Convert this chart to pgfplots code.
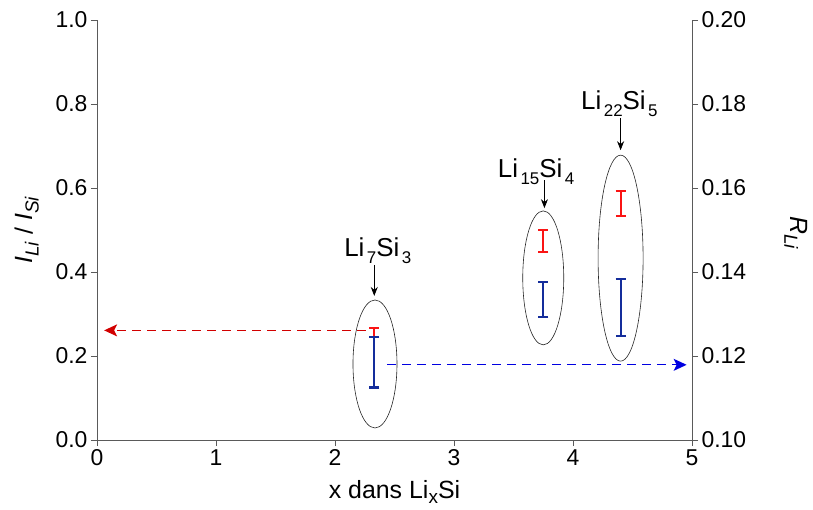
\documentclass[border=0pt]{standalone}
\usepackage{pgfplots}
\pgfplotsset{compat=1.18}
\usepackage{fontspec}
\setmainfont{Liberation Sans}
\usetikzlibrary{arrows.meta}
\definecolor{barred}{RGB}{250,20,20}
\definecolor{barblue}{RGB}{20,45,155}
\definecolor{arrred}{RGB}{210,0,0}
\definecolor{arrblue}{RGB}{0,0,225}
\definecolor{axgray}{RGB}{90,90,90}
\newcommand{\fs}{\fontsize{23}{27}\selectfont}
\newcommand{\fl}{\fontsize{25}{29}\selectfont}
\newcommand{\fa}{\fontsize{26}{30}\selectfont}
% subscript for annotations
\newcommand{\sub}[1]{\hspace{2.5bp}\raisebox{-7bp}{\fontsize{17}{17}\selectfont #1}}
% subscript for axis labels
\newcommand{\lsub}[1]{\raisebox{-6bp}{\fontsize{19}{19}\selectfont #1}}
\begin{document}
\begin{tikzpicture}
\pgfplotsset{
  every axis/.append style={
    scale only axis, width=595bp, height=420bp,
    xmin=0, xmax=5,
    tick align=outside,
    major tick length=6bp,
    tick style={axgray, line width=0.8bp},
    axis line style={axgray, line width=0.8bp},
    ticklabel style={font=\fs},
    label style={font=\fl},
    /pgf/number format/assume math mode=true,
    clip=false,
  }
}
\begin{axis}[
  axis x line*=bottom, axis y line*=left,
  axis line style={-},
  ymin=0, ymax=1,
  ytick={0,0.2,...,1.0},
  yticklabel style={/pgf/number format/.cd, fixed, fixed zerofill, precision=1},
  xtick={0,1,2,3,4,5},
  xlabel={x dans Li\raisebox{-5bp}{\fontsize{19}{19}\selectfont x}Si},
  ylabel={\textit{I}\lsub{\textit{Li}} / \textit{I}\lsub{\textit{Si}}},
  xlabel style={anchor=base, at={(ticklabel cs:0.5)}, yshift=-29bp},
  ylabel style={at={(ticklabel cs:0.5)}, anchor=south, yshift=10bp},
]
\addplot[barred, only marks, mark=text, text mark={},
  error bars/.cd, y dir=both, y explicit,
  error bar style={line width=2bp, barred},
  error mark=-,
  error mark options={barred, line width=2bp, mark size=5bp, rotate=90}]
  table[x=x, y=y, y error=e] {
x y e
2.33 0.256 0.011
3.75 0.474 0.026
4.40 0.563 0.030
};
% ellipses
\draw[black!85, line width=0.6bp] (axis cs:2.336,0.181) ellipse [x radius=22bp, y radius=64bp];
\draw[black!85, line width=0.6bp] (axis cs:3.75,0.386) ellipse [x radius=20.5bp, y radius=67bp];
\draw[black!85, line width=0.6bp] (axis cs:4.40,0.433) ellipse [x radius=22.5bp, y radius=103bp];
% labels
\node[font=\fa, anchor=base, inner sep=0pt] at (axis cs:2.36,0.438) {Li\sub{7}Si\sub{3}};
\node[font=\fa, anchor=base, inner sep=0pt] at (axis cs:3.69,0.624) {Li\sub{15}Si\sub{4}};
\node[font=\fa, anchor=base, inner sep=0pt] at (axis cs:4.39,0.786) {Li\sub{22}Si\sub{5}};
\draw[-{Stealth[length=9bp,width=7bp]}, line width=0.8bp] (axis cs:2.33,0.417) -- (axis cs:2.33,0.343);
\draw[-{Stealth[length=9bp,width=7bp]}, line width=0.8bp] (axis cs:3.76,0.619) -- (axis cs:3.76,0.552);
\draw[-{Stealth[length=9bp,width=7bp]}, line width=0.8bp] (axis cs:4.40,0.767) -- (axis cs:4.40,0.690);
% dashed arrows
\draw[arrred, line width=1.3bp, dash pattern=on 9bp off 6bp, -{Stealth[length=13bp,width=12bp,inset=3bp]}] (axis cs:2.26,0.261) -- (axis cs:0.06,0.261);
\draw[arrblue, line width=1.3bp, dash pattern=on 9bp off 6bp, -{Stealth[length=13bp,width=12bp,inset=3bp]}] (axis cs:2.44,0.179) -- (axis cs:4.955,0.179);
\end{axis}
\begin{axis}[
  axis x line=none, axis y line*=right,
  axis line style={-},
  ymin=0.10, ymax=0.20,
  ytick={0.10,0.12,...,0.20},
  yticklabel style={/pgf/number format/.cd, fixed, fixed zerofill, precision=2},
]
\addplot[barblue, only marks, mark=text, text mark={},
  error bars/.cd, y dir=both, y explicit,
  error bar style={line width=2bp, barblue},
  error mark=-,
  error mark options={barblue, line width=2bp, mark size=5bp, rotate=90}]
  table[x=x, y=y, y error=e] {
x y e
2.33 0.1185 0.0060
3.75 0.1335 0.0042
4.40 0.1316 0.0068
};
\node[font=\fl, rotate=-90, anchor=center, inner sep=0pt] at ([xshift=104bp,yshift=-3bp]rel axis cs:1,0.5) {\textit{R}\lsub{\textit{Li}}};
\end{axis}
\pgfresetboundingbox
\path[use as bounding box] (-97bp,-70bp) rectangle (716bp,440bp);
\end{tikzpicture}
\end{document}
